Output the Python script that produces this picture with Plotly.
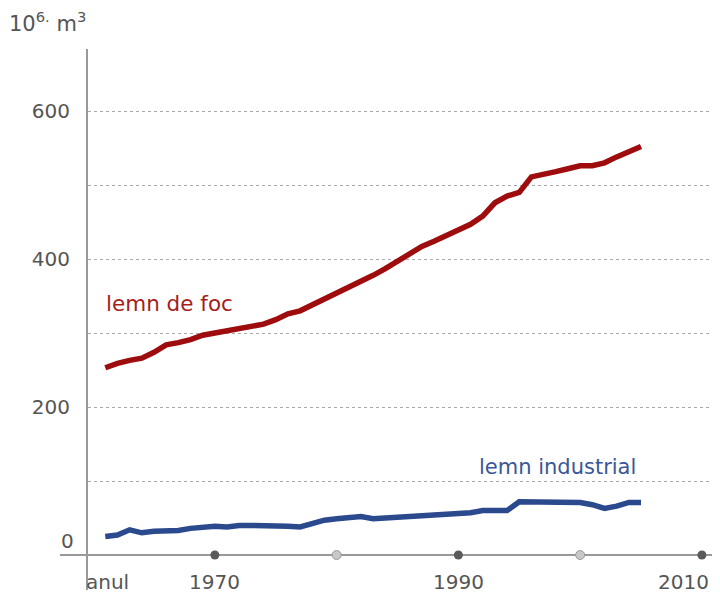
import plotly.graph_objects as go

# Wood removals, million m3 per year
years = list(range(1961, 2006))
lemn_de_foc = [
    253, 259, 263, 266, 274, 284, 287, 291, 297, 300,
    303, 305, 309, 312, 318, 326, 330, 338, 345, 353,
    360, 370, 378, 387, 397, 407, 417, 424, 432, 438,
    447, 458, 476, 485, 490, 511, 514, 518, 522, 526,
    526, 530, 538, 545, 552,
]
lemn_industrial = [
    25, 27, 34, 30, 32, 33, 33, 36, 38, 39,
    38, 40, 40, 40, 39, 39, 38, 43, 47, 49,
    51, 52, 49, 50, 51, 52, 52, 53, 54, 55,
    57, 60, 60, 60, 72, 72, 72, 72, 72, 71,
    68, 63, 66, 71, 71,
]

dark_ticks = [1970, 1990, 2010]
light_ticks = [1980, 2000]
y_grid = [100, 200, 300, 400, 500, 600]
y_labels = ["", "200", "", "400", "", "600"]

RED = "#9e0c0e"
BLUE = "#2b4a8e"
GREY = "#555555"
FONT = "DejaVu Sans"

fig = go.Figure()

fig.add_trace(go.Scatter(
    x=years, y=lemn_de_foc, mode="lines",
    line=dict(color=RED, width=5.5), hoverinfo="skip",
))
fig.add_trace(go.Scatter(
    x=years, y=lemn_industrial, mode="lines",
    line=dict(color=BLUE, width=5.5), hoverinfo="skip",
))

# x axis baseline (also runs a bit left of the y axis)
fig.add_shape(
    type="line", xref="paper", yref="y",
    x0=-0.045, x1=1, y0=0, y1=0,
    line=dict(color="#999999", width=2), layer="below",
)

# tick dots on the baseline
fig.add_trace(go.Scatter(
    x=dark_ticks, y=[0] * len(dark_ticks), mode="markers",
    marker=dict(color="#5a5a5a", size=9), cliponaxis=False, hoverinfo="skip",
))
fig.add_trace(go.Scatter(
    x=light_ticks, y=[0] * len(light_ticks), mode="markers",
    marker=dict(color="#c8c8c8", size=9, line=dict(color="#9a9a9a", width=1)),
    cliponaxis=False, hoverinfo="skip",
))

for yr in dark_ticks:
    if yr == 2010:
        # last label is pushed inside the right edge
        fig.add_annotation(
            x=1, xshift=-1, y=-36, xref="paper", yref="y", xanchor="right",
            text=str(yr), showarrow=False,
            font=dict(family=FONT, size=20, color=GREY),
        )
    else:
        fig.add_annotation(
            x=yr, y=-36, xref="x", yref="y",
            text=str(yr), showarrow=False,
            font=dict(family=FONT, size=20, color=GREY),
        )

fig.add_annotation(
    x=-0.006, y=-36, xref="paper", yref="y", xanchor="left",
    text="anul", showarrow=False, font=dict(family=FONT, size=20, color=GREY),
)
fig.add_annotation(
    x=-0.046, y=0, yshift=14, xref="paper", yref="y",
    text="0", showarrow=False, font=dict(family=FONT, size=20, color=GREY),
)
fig.add_annotation(
    x=-0.13, y=1.05, xref="paper", yref="paper", xanchor="left", yanchor="middle",
    text="10<sup>6.</sup> m<sup>3</sup>", showarrow=False,
    font=dict(family=FONT, size=21, color=GREY),
)

# series labels
fig.add_annotation(
    x=1960.9, y=340, xref="x", yref="y", xanchor="left",
    text="lemn de foc", showarrow=False, font=dict(family=FONT, size=21.5, color="#a81c1c"),
)
fig.add_annotation(
    x=1991.5, y=119, xref="x", yref="y", xanchor="left",
    text="lemn industrial", showarrow=False, font=dict(family=FONT, size=21, color="#3a5797"),
)

# the page body adds an 8px margin, so the figure is offset and shrunk
fig.update_layout(
    width=704, height=587,
    margin=dict(l=80, r=0, t=41, b=5),
    paper_bgcolor="white", plot_bgcolor="white",
    showlegend=False,
    font=dict(family=FONT, color=GREY),
    xaxis=dict(
        range=[1959.58, 2010.83], showgrid=False, zeroline=False,
        showticklabels=False, ticks="",
    ),
    yaxis=dict(
        range=[-47.3, 683.8], tickvals=y_grid, ticktext=y_labels,
        showgrid=True, gridcolor="#aaaaaa", griddash="dot", gridwidth=1,
        zeroline=False, showline=True, linecolor="#999999", linewidth=2,
        ticks="", ticklabelstandoff=12,
        tickfont=dict(family=FONT, size=20, color=GREY),
    ),
)

fig.write_html("out.html")
